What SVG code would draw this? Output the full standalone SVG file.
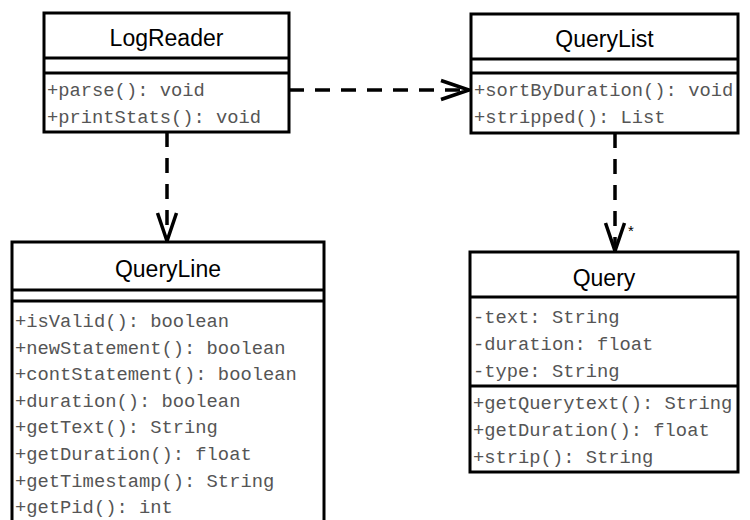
<svg xmlns="http://www.w3.org/2000/svg" width="750" height="520" viewBox="0 0 750 520">
  <style>
    .box { fill: #ffffff; stroke: #000000; stroke-width: 3; }
    .sep { stroke: #000000; stroke-width: 3; }
    .title { font-family: "Liberation Sans", Arial, sans-serif; font-size: 23px; fill: #000000; text-anchor: middle; }
    .member { font-family: "Liberation Mono", "Courier New", monospace; font-size: 18.8px; fill: #555555; }
    .dep { fill: none; stroke: #000000; stroke-width: 3.5; stroke-dasharray: 15 11; }
    .mult { font-family: "Liberation Sans", Arial, sans-serif; font-size: 15px; fill: #000000; }
  </style>
  <defs>
    <marker id="open-arrow" markerUnits="userSpaceOnUse" markerWidth="40" markerHeight="30" viewBox="-32 -15 40 30" refX="0" refY="0" orient="auto">
      <path d="M -28 -9.5 L 0 0 L -28 9.5" fill="none" stroke="#000000" stroke-width="3.5" stroke-dasharray="none"/>
    </marker>
  </defs>

  <!-- dependency connectors -->
  <g id="connectors">
    <path class="dep" d="M 289 90 L 469 90" marker-end="url(#open-arrow)"/>
    <path class="dep" d="M 167 132 L 167 241" marker-end="url(#open-arrow)"/>
    <path class="dep" d="M 615 133 L 615 251" marker-end="url(#open-arrow)"/>
    <text class="mult" x="628" y="236">*</text>
  </g>

  <g id="LogReader">
    <rect class="box" x="44" y="13" width="245" height="119"/>
    <line class="sep" x1="44" y1="58" x2="289" y2="58"/>
    <line class="sep" x1="44" y1="73" x2="289" y2="73"/>
    <text class="title" x="166.5" y="46">LogReader</text>
    <text class="member" x="47" y="96">+parse(): void</text>
    <text class="member" x="47" y="123">+printStats(): void</text>
  </g>

  <g id="QueryList">
    <rect class="box" x="471" y="14" width="267" height="119"/>
    <line class="sep" x1="471" y1="59" x2="738" y2="59"/>
    <line class="sep" x1="471" y1="73" x2="738" y2="73"/>
    <text class="title" x="604.5" y="47">QueryList</text>
    <text class="member" x="474" y="96">+sortByDuration(): void</text>
    <text class="member" x="474" y="123">+stripped(): List</text>
  </g>

  <g id="QueryLine">
    <rect class="box" x="12" y="242" width="312" height="300"/>
    <line class="sep" x1="12" y1="290" x2="324" y2="290"/>
    <line class="sep" x1="12" y1="301" x2="324" y2="301"/>
    <text class="title" x="168" y="277">QueryLine</text>
    <text class="member" x="15" y="327">+isValid(): boolean</text>
    <text class="member" x="15" y="353.6">+newStatement(): boolean</text>
    <text class="member" x="15" y="380.2">+contStatement(): boolean</text>
    <text class="member" x="15" y="406.8">+duration(): boolean</text>
    <text class="member" x="15" y="433.4">+getText(): String</text>
    <text class="member" x="15" y="460">+getDuration(): float</text>
    <text class="member" x="15" y="486.6">+getTimestamp(): String</text>
    <text class="member" x="15" y="513.2">+getPid(): int</text>
  </g>

  <g id="Query">
    <rect class="box" x="470" y="252" width="268" height="220"/>
    <line class="sep" x1="470" y1="297" x2="738" y2="297"/>
    <line class="sep" x1="470" y1="386" x2="738" y2="386"/>
    <text class="title" x="604" y="286">Query</text>
    <text class="member" x="473" y="323">-text: String</text>
    <text class="member" x="473" y="350">-duration: float</text>
    <text class="member" x="473" y="377">-type: String</text>
    <text class="member" x="473" y="409">+getQuerytext(): String</text>
    <text class="member" x="473" y="436">+getDuration(): float</text>
    <text class="member" x="473" y="463">+strip(): String</text>
  </g>
</svg>
